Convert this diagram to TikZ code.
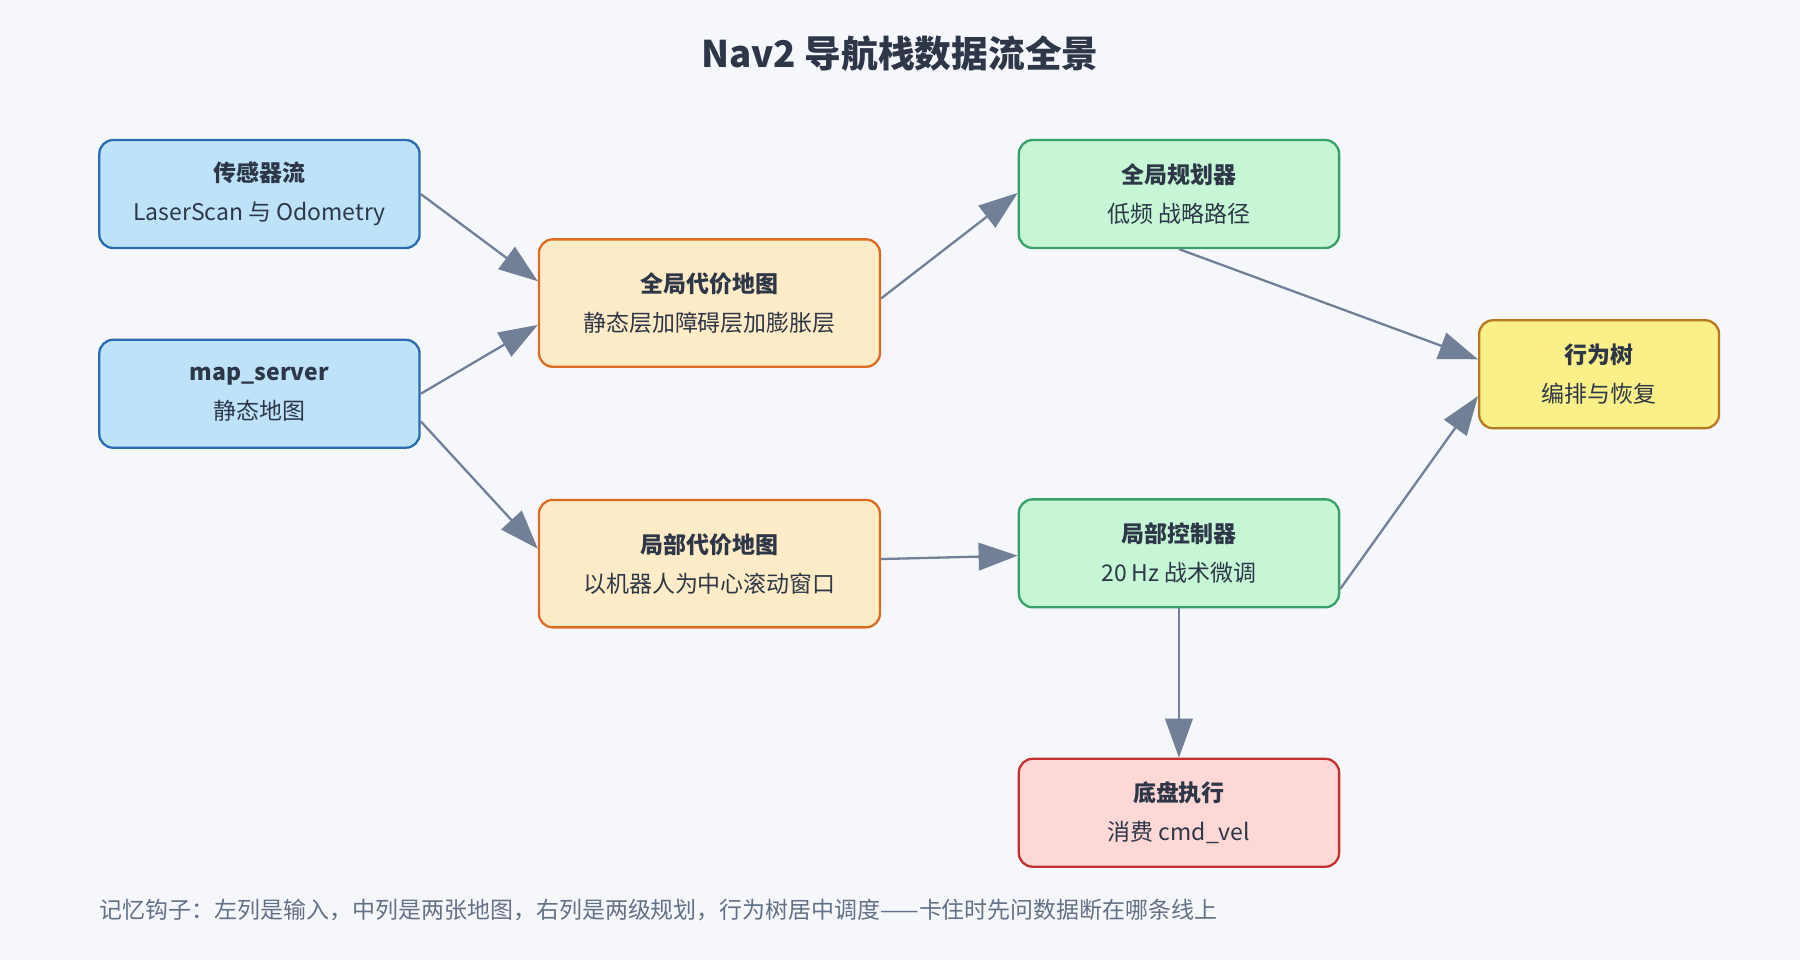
\documentclass[tikz,border=0pt]{standalone}
\usepackage{fontspec}
\setmainfont{Noto Sans CJK SC}
\usetikzlibrary{calc,arrows.meta,positioning}
\definecolor{bg}{HTML}{F6F7FB}
\definecolor{ink}{HTML}{2D3748}
\definecolor{wire}{HTML}{718096}
\definecolor{blueF}{HTML}{BEE3F8}\definecolor{blueD}{HTML}{2B6CB0}
\definecolor{orgF}{HTML}{FEEBC8}\definecolor{orgD}{HTML}{DD6B20}
\definecolor{grnF}{HTML}{C6F6D5}\definecolor{grnD}{HTML}{38A169}
\definecolor{ylwF}{HTML}{FAF089}\definecolor{ylwD}{HTML}{B7791F}
\definecolor{redF}{HTML}{FED7D7}\definecolor{redD}{HTML}{C53030}
\tikzset{
  box/.style={draw, line width=1pt, rounded corners=6pt, align=center,
    text=ink, font=\fontsize{10}{17}\selectfont, inner sep=0pt},
  flow/.style={draw=wire, line width=1pt, -{Triangle[length=17pt,width=12pt]}}
}
\begin{document}
\begin{tikzpicture}[x=0.5pt,y=-0.5pt]
\fill[bg] (0,0) rectangle (1568,836);
\useasboundingbox (0,0) rectangle (1568,836);

% Title
\node (title) at (784,47) {\fontsize{16}{18}\selectfont\bfseries\color{ink} Nav2 导航栈数据流全景};

% Left column: inputs
\node[box, fill=blueF, draw=blueD, minimum width=139.5pt, minimum height=47pt] (sensor) at (226,169)
  {\textbf{传感器流}\\LaserScan 与 Odometry};
\node[box, fill=blueF, draw=blueD, minimum width=139.5pt, minimum height=47pt] (mapsrv) at (226,343)
  {\textbf{map\_server}\\静态地图};

% Middle column: the two costmaps
\node[box, fill=orgF, draw=orgD, minimum width=148.5pt, minimum height=55.5pt] (gcm) at (618,264)
  {\textbf{全局代价地图}\\静态层加障碍层加膨胀层};
\node[box, fill=orgF, draw=orgD, minimum width=148.5pt, minimum height=55.5pt] (lcm) at (618,491)
  {\textbf{局部代价地图}\\以机器人为中心滚动窗口};

% Right column: planning
\node[box, fill=grnF, draw=grnD, minimum width=139.5pt, minimum height=47pt] (gplan) at (1027,169)
  {\textbf{全局规划器}\\低频 战略路径};
\node[box, fill=grnF, draw=grnD, minimum width=139.5pt, minimum height=47pt] (lctrl) at (1027,482)
  {\textbf{局部控制器}\\20 Hz 战术微调};
\node[box, fill=ylwF, draw=ylwD, minimum width=104.5pt, minimum height=47pt] (bt) at (1393,326)
  {\textbf{行为树}\\编排与恢复};
\node[box, fill=redF, draw=redD, minimum width=139.5pt, minimum height=47pt] (base) at (1027,708)
  {\textbf{底盘执行}\\消费 cmd\_vel};

% Connectors
\draw[flow] (sensor.east) -- ($(gcm.west)+(0,-19)$);
\draw[flow] (mapsrv.east) -- ($(gcm.west)+(0,19)$);
\draw[flow] ($(mapsrv.east)+(0,24)$) -- ($(lcm.west)+(0,-13)$);
\draw[flow] ($(gcm.east)+(0,-4)$) -- ($(gplan.west)+(0,-1)$);
\draw[flow] (gplan.south) -- ($(bt.west)+(0,-13)$);
\draw[flow] ($(lcm.east)+(0,-4)$) -- ($(lctrl.west)+(0,2)$);
\draw[flow] ($(lctrl.east)+(0,31)$) -- ($(bt.west)+(0,19)$);
\draw[flow] (lctrl.south) -- (base.north);

% Footer
\node[anchor=west, text=wire!80!ink, font=\fontsize{10}{12}\selectfont] (hook) at (80,793)
  {记忆钩子：左列是输入，中列是两张地图，右列是两级规划，行为树居中调度——卡住时先问数据断在哪条线上};
\end{tikzpicture}
\end{document}
